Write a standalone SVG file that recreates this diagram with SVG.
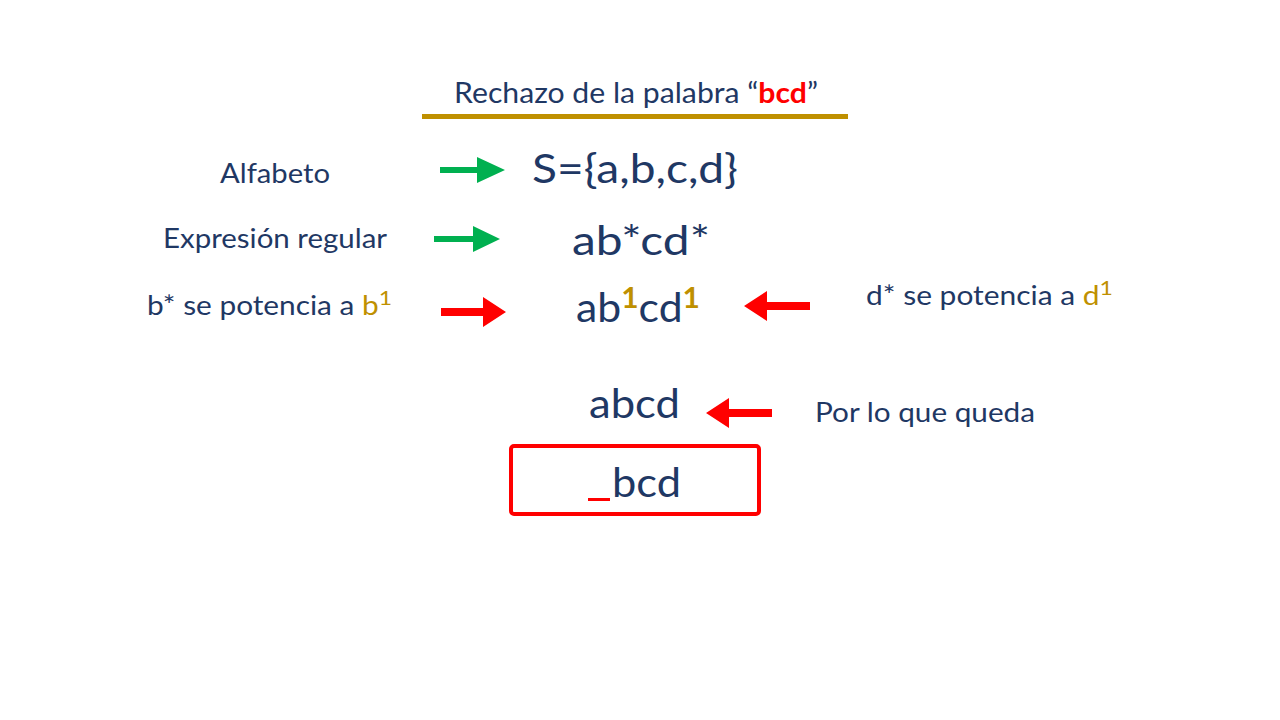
<svg xmlns="http://www.w3.org/2000/svg" width="1280" height="720" viewBox="0 0 1280 720">
<style>
text{font-family:Lato,"Open Sans","Liberation Sans",sans-serif;fill:#1F3864}
.s{font-size:26px}
.b{font-size:40px}
.g{fill:#BF9000}
.r{fill:#FF0000}
</style>
<rect width="1280" height="720" fill="#fff"/>
<g id="title">
<text x="454" y="103" font-size="28" textLength="364" lengthAdjust="spacingAndGlyphs">Rechazo de la palabra “<tspan class="r" font-weight="bold">bcd</tspan>”</text>
<rect x="422" y="114" width="426" height="5" fill="#BF9000"/>
</g>
<g id="alfabeto"><text class="s" x="220" y="183" textLength="110" lengthAdjust="spacingAndGlyphs">Alfabeto</text></g>
<g id="sigma"><text class="b" x="532" y="183" textLength="206" lengthAdjust="spacingAndGlyphs">S={a,b,c,d}</text></g>
<g id="expresion"><text class="s" x="163" y="248" textLength="224" lengthAdjust="spacingAndGlyphs">Expresión regular</text></g>
<g id="regex"><text class="b" x="572" y="255" textLength="138" lengthAdjust="spacingAndGlyphs">ab*cd*</text></g>
<g id="bpot"><text class="s" x="147" y="315" font-size="27" textLength="245" lengthAdjust="spacingAndGlyphs">b* se potencia a <tspan class="g">b</tspan><tspan class="g" font-size="20" dy="-10">1</tspan></text></g>
<g id="pot"><text class="b" x="576" y="322" textLength="124" lengthAdjust="spacingAndGlyphs">ab<tspan class="g" font-weight="bold" font-size="28" dy="-14">1</tspan><tspan dy="14">cd</tspan><tspan class="g" font-weight="bold" font-size="28" dy="-14">1</tspan></text></g>
<g id="dpot"><text class="s" x="866" y="305" font-size="27" textLength="247" lengthAdjust="spacingAndGlyphs">d* se potencia a <tspan class="g">d</tspan><tspan class="g" font-size="20" dy="-10">1</tspan></text></g>
<g id="abcd"><text class="b" x="589" y="418" textLength="91" lengthAdjust="spacingAndGlyphs">abcd</text></g>
<g id="porlo"><text class="s" x="815" y="422" textLength="220" lengthAdjust="spacingAndGlyphs">Por lo que queda</text></g>
<g id="result">
<rect x="511" y="446" width="248" height="68" rx="3" fill="none" stroke="#FF0000" stroke-width="4"/>
<rect x="588" y="498" width="22" height="3" fill="#FF0000"/>
<text class="b" x="612" y="497" textLength="69" lengthAdjust="spacingAndGlyphs">bcd</text>
</g>
<g id="connectors">
<path d="M440 167h37v-10l28 13-28 13v-10h-37z" fill="#00B050"/>
<path d="M434 236h39v-10l27 13-27 13v-10h-39z" fill="#00B050"/>
<path d="M441 308h42v-11l23 15-23 15v-11h-42z" fill="#FF0000"/>
<path d="M810 302h-43v-11l-23 15 23 15v-11h43z" fill="#FF0000"/>
<path d="M772 409h-43v-11l-23 15 23 15v-11h43z" fill="#FF0000"/>
</g>
</svg>
